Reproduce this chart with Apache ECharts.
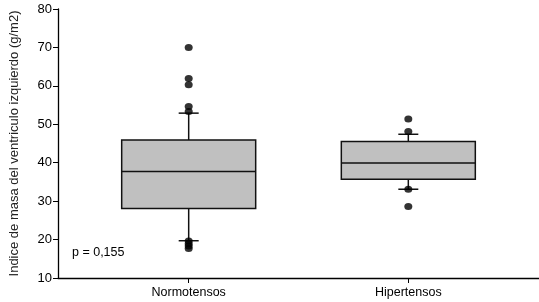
<!DOCTYPE html>
<html>
<head>
<meta charset="utf-8">
<script src="https://cdn.jsdelivr.net/npm/echarts@6/dist/echarts.min.js"></script>
<style>html,body{margin:0;padding:0;background:#fff}#c{width:539px;height:302px}</style>
</head>
<body>
<div id="c"></div>
<script>
// Categories and box statistics: [lowWhisker, Q1, median, Q3, highWhisker]
var categories = ['Normotensos', 'Hipertensos'];
var boxStats = [
  [19.7, 28.1, 37.7, 45.9, 52.9],
  [33.1, 35.7, 39.9, 45.5, 47.4]
];
var outliersNormo = [70.0, 61.9, 60.3, 54.6, 53.3, 19.6, 18.9, 18.3, 17.7];
var outliersHiper = [51.4, 48.1, 33.1, 28.6];
var yTicks = [10, 20, 30, 40, 50, 60, 70, 80];
var pText = 'p = 0,155';
var yName = 'Indice de masa del ventriculo izquierdo (g/m2)';

var font = 'Liberation Sans, Arial, sans-serif';
var boxData = boxStats.map(function (s, i) { return [i].concat(s); });
var outData = [];
outliersNormo.forEach(function (v) { outData.push([0, v]); });
outliersHiper.forEach(function (v) { outData.push([1, v]); });

var chart = echarts.init(document.getElementById('c'));
chart.setOption({
  animation: false,
  grid: { left: 57, right: 0, top: 9, bottom: 24 },
  xAxis: {
    type: 'value', min: -0.595, max: 1.595,
    splitLine: { show: false },
    axisLine: { show: true, onZero: false, lineStyle: { color: '#000', width: 1.3 } },
    axisTick: { show: true, customValues: [0, 1], length: 5, lineStyle: { color: '#000' } },
    axisLabel: {
      customValues: [0, 1], margin: 8, color: '#000', fontSize: 12.5, fontFamily: font,
      formatter: function (v) { return categories[Math.round(v)]; }
    }
  },
  yAxis: {
    type: 'value', min: yTicks[0], max: yTicks[yTicks.length - 1], interval: 10,
    splitLine: { show: false },
    axisLine: { show: true, onZero: false, lineStyle: { color: '#000', width: 1.3 } },
    axisTick: { show: true, length: 5, lineStyle: { color: '#000' } },
    axisLabel: { color: '#000', fontSize: 13, fontFamily: font, margin: 6 },
    name: yName, nameLocation: 'middle', nameGap: 37,
    nameTextStyle: { color: '#222', fontSize: 13, fontFamily: font }
  },
  graphic: [{
    type: 'text', left: 72, top: 246,
    style: { text: pText, font: '12.5px ' + font, fill: '#000' }
  }],
  series: [{
    type: 'custom',
    data: boxData,
    encode: { x: 0, y: [1, 2, 3, 4, 5] },
    renderItem: function (params, api) {
      var x = api.value(0);
      var lo = api.coord([x, api.value(1)]);
      var q1 = api.coord([x, api.value(2)]);
      var md = api.coord([x, api.value(3)]);
      var q3 = api.coord([x, api.value(4)]);
      var hi = api.coord([x, api.value(5)]);
      var cx = lo[0], hw = 67, cw = 10;
      var ls = { stroke: '#111', lineWidth: 1.5 };
      return {
        type: 'group',
        children: [
          { type: 'line', shape: { x1: cx, y1: q1[1], x2: cx, y2: lo[1] }, style: ls },
          { type: 'line', shape: { x1: cx, y1: q3[1], x2: cx, y2: hi[1] }, style: ls },
          { type: 'line', shape: { x1: cx - cw, y1: lo[1], x2: cx + cw, y2: lo[1] }, style: ls },
          { type: 'line', shape: { x1: cx - cw, y1: hi[1], x2: cx + cw, y2: hi[1] }, style: ls },
          { type: 'rect', shape: { x: cx - hw, y: q3[1], width: 2 * hw, height: q1[1] - q3[1] },
            style: { fill: '#c0c0c0', stroke: '#111', lineWidth: 1.5 } },
          { type: 'line', shape: { x1: cx - hw, y1: md[1], x2: cx + hw, y2: md[1] }, style: ls }
        ]
      };
    },
    z: 2
  }, {
    type: 'scatter',
    data: outData,
    symbol: 'circle',
    symbolSize: [8, 7],
    itemStyle: { color: '#000' },
    z: 3
  }]
});
</script>
</body>
</html>
